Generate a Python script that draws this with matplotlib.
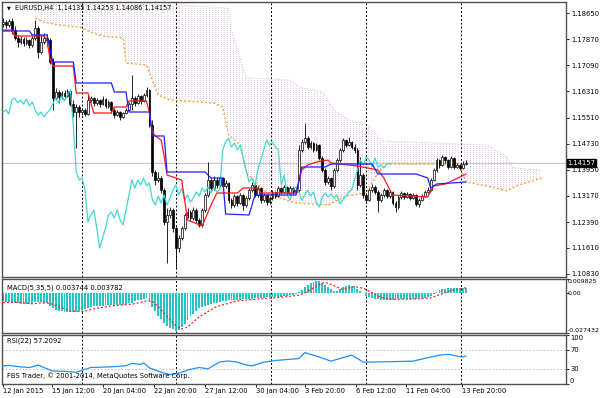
import matplotlib
matplotlib.use("Agg")
import matplotlib.pyplot as plt
import matplotlib.transforms as mtransforms
from matplotlib.patches import Polygon
import numpy as np

plt.rcParams['font.family'] = ['DejaVu Sans']

# EURUSD H4, 12 Jan - 13 Feb 2015
opens = [1.1833, 1.1839, 1.1830, 1.1842, 1.1815, 1.1791, 1.1779, 1.1788, 1.1776, 1.1785,
         1.1770, 1.1791, 1.1821, 1.1749, 1.1779, 1.1791, 1.1785, 1.1719, 1.1611, 1.1629,
         1.1614, 1.1626, 1.1617, 1.1632, 1.1593, 1.1569, 1.1584, 1.1569, 1.1575, 1.1563,
         1.1605, 1.1611, 1.1596, 1.1605, 1.1593, 1.1608, 1.1587, 1.1599, 1.1575, 1.1560,
         1.1569, 1.1554, 1.1566, 1.1575, 1.1593, 1.1611, 1.1596, 1.1617, 1.1602, 1.1620,
         1.1635, 1.1530, 1.1389, 1.1365, 1.1371, 1.1335, 1.1239, 1.1260, 1.1275, 1.1221,
         1.1161, 1.1191, 1.1221, 1.1260, 1.1269, 1.1251, 1.1275, 1.1245, 1.1230, 1.1275,
         1.1320, 1.1365, 1.1341, 1.1365, 1.1350, 1.1371, 1.1347, 1.1356, 1.1305, 1.1290,
         1.1317, 1.1296, 1.1320, 1.1290, 1.1311, 1.1335, 1.1350, 1.1320, 1.1341, 1.1305,
         1.1320, 1.1299, 1.1311, 1.1329, 1.1317, 1.1341, 1.1329, 1.1344, 1.1326, 1.1341,
         1.1329, 1.1335, 1.1455, 1.1479, 1.1491, 1.1464, 1.1476, 1.1455, 1.1470, 1.1431,
         1.1395, 1.1359, 1.1371, 1.1347, 1.1395, 1.1425, 1.1455, 1.1485, 1.1470, 1.1479,
         1.1464, 1.1455, 1.1350, 1.1380, 1.1320, 1.1305, 1.1335, 1.1344, 1.1329, 1.1305,
         1.1320, 1.1335, 1.1317, 1.1329, 1.1296, 1.1284, 1.1314, 1.1326, 1.1314, 1.1323,
         1.1311, 1.1320, 1.1293, 1.1305, 1.1317, 1.1329, 1.1335, 1.1365, 1.1395, 1.1425,
         1.1410, 1.1434, 1.1425, 1.1404, 1.1431, 1.1404, 1.1410, 1.1401, 1.14135]
highs = [1.1851, 1.1845, 1.1848, 1.1851, 1.1827, 1.1800, 1.1797, 1.1794, 1.1794, 1.1788,
         1.1797, 1.1845, 1.1827, 1.1800, 1.1806, 1.1803, 1.1791, 1.1731, 1.1641, 1.1635,
         1.1632, 1.1635, 1.1638, 1.1635, 1.1605, 1.1593, 1.1590, 1.1581, 1.1581, 1.1620,
         1.1617, 1.1614, 1.1611, 1.1608, 1.1617, 1.1611, 1.1605, 1.1602, 1.1581, 1.1575,
         1.1572, 1.1569, 1.1581, 1.1599, 1.1680, 1.1617, 1.1623, 1.1620, 1.1626, 1.1644,
         1.1638, 1.1545, 1.1395, 1.1389, 1.1377, 1.1341, 1.1281, 1.1284, 1.1281, 1.1227,
         1.1200, 1.1227, 1.1266, 1.1281, 1.1275, 1.1284, 1.1281, 1.1251, 1.1281, 1.1326,
         1.1419, 1.1371, 1.1377, 1.1371, 1.1380, 1.1374, 1.1365, 1.1359, 1.1311, 1.1323,
         1.1320, 1.1326, 1.1323, 1.1317, 1.1341, 1.1359, 1.1353, 1.1347, 1.1344, 1.1326,
         1.1323, 1.1317, 1.1335, 1.1332, 1.1347, 1.1344, 1.1350, 1.1347, 1.1347, 1.1344,
         1.1338, 1.1470, 1.1488, 1.1536, 1.1497, 1.1482, 1.1479, 1.1476, 1.1473, 1.1437,
         1.1401, 1.1377, 1.1374, 1.1401, 1.1431, 1.1461, 1.1491, 1.1488, 1.1494, 1.1482,
         1.1473, 1.1461, 1.1434, 1.1386, 1.1326, 1.1341, 1.1353, 1.1350, 1.1335, 1.1326,
         1.1341, 1.1338, 1.1335, 1.1332, 1.1302, 1.1320, 1.1332, 1.1329, 1.1329, 1.1326,
         1.1326, 1.1323, 1.1311, 1.1323, 1.1335, 1.1344, 1.1371, 1.1401, 1.1431, 1.1428,
         1.1440, 1.1437, 1.1428, 1.1437, 1.1434, 1.1416, 1.1413, 1.1422, 1.14253]
lows = [1.1824, 1.1821, 1.1824, 1.1803, 1.1785, 1.1764, 1.1773, 1.1767, 1.1770, 1.1761,
        1.1764, 1.1785, 1.1731, 1.1743, 1.1773, 1.1767, 1.1713, 1.1575, 1.1605, 1.1596,
        1.1608, 1.1611, 1.1614, 1.1587, 1.1554, 1.1461, 1.1554, 1.1560, 1.1557, 1.1560,
        1.1599, 1.1587, 1.1590, 1.1584, 1.1590, 1.1581, 1.1581, 1.1566, 1.1551, 1.1557,
        1.1545, 1.1551, 1.1563, 1.1572, 1.1575, 1.1587, 1.1593, 1.1593, 1.1599, 1.1614,
        1.1524, 1.1377, 1.1350, 1.1359, 1.1326, 1.1230, 1.1116, 1.1251, 1.1209, 1.1101,
        1.1149, 1.1185, 1.1215, 1.1251, 1.1242, 1.1245, 1.1236, 1.1224, 1.1224, 1.1269,
        1.1314, 1.1335, 1.1335, 1.1341, 1.1344, 1.1335, 1.1341, 1.1296, 1.1281, 1.1284,
        1.1287, 1.1293, 1.1275, 1.1284, 1.1305, 1.1329, 1.1314, 1.1314, 1.1296, 1.1299,
        1.1290, 1.1293, 1.1305, 1.1311, 1.1314, 1.1323, 1.1326, 1.1320, 1.1323, 1.1323,
        1.1323, 1.1329, 1.1449, 1.1473, 1.1458, 1.1458, 1.1449, 1.1452, 1.1425, 1.1389,
        1.1350, 1.1353, 1.1335, 1.1341, 1.1389, 1.1419, 1.1449, 1.1464, 1.1467, 1.1458,
        1.1446, 1.1335, 1.1344, 1.1311, 1.1296, 1.1302, 1.1329, 1.1323, 1.1269, 1.1299,
        1.1314, 1.1311, 1.1311, 1.1290, 1.1269, 1.1278, 1.1308, 1.1308, 1.1311, 1.1305,
        1.1308, 1.1287, 1.1284, 1.1302, 1.1314, 1.1326, 1.1332, 1.1362, 1.1389, 1.1401,
        1.1407, 1.1416, 1.1398, 1.1401, 1.1398, 1.1401, 1.1395, 1.1398, 1.14086]
closes = [1.1839, 1.1830, 1.1842, 1.1815, 1.1791, 1.1779, 1.1788, 1.1776, 1.1785, 1.1770,
          1.1791, 1.1821, 1.1749, 1.1779, 1.1791, 1.1785, 1.1719, 1.1611, 1.1629, 1.1614,
          1.1626, 1.1617, 1.1632, 1.1593, 1.1569, 1.1584, 1.1569, 1.1575, 1.1563, 1.1605,
          1.1611, 1.1596, 1.1605, 1.1593, 1.1608, 1.1587, 1.1599, 1.1575, 1.1560, 1.1569,
          1.1554, 1.1566, 1.1575, 1.1593, 1.1611, 1.1596, 1.1617, 1.1602, 1.1620, 1.1635,
          1.1530, 1.1389, 1.1365, 1.1371, 1.1335, 1.1239, 1.1260, 1.1275, 1.1221, 1.1161,
          1.1191, 1.1221, 1.1260, 1.1269, 1.1251, 1.1275, 1.1245, 1.1230, 1.1275, 1.1320,
          1.1365, 1.1341, 1.1365, 1.1350, 1.1371, 1.1347, 1.1356, 1.1305, 1.1290, 1.1317,
          1.1296, 1.1320, 1.1290, 1.1311, 1.1335, 1.1350, 1.1320, 1.1341, 1.1305, 1.1320,
          1.1299, 1.1311, 1.1329, 1.1317, 1.1341, 1.1329, 1.1344, 1.1326, 1.1341, 1.1329,
          1.1335, 1.1455, 1.1479, 1.1491, 1.1464, 1.1476, 1.1455, 1.1470, 1.1431, 1.1395,
          1.1359, 1.1371, 1.1347, 1.1395, 1.1425, 1.1455, 1.1485, 1.1470, 1.1479, 1.1464,
          1.1455, 1.1350, 1.1380, 1.1320, 1.1305, 1.1335, 1.1344, 1.1329, 1.1305, 1.1320,
          1.1335, 1.1317, 1.1329, 1.1296, 1.1284, 1.1314, 1.1326, 1.1314, 1.1323, 1.1311,
          1.1320, 1.1293, 1.1305, 1.1317, 1.1329, 1.1335, 1.1365, 1.1395, 1.1425, 1.1410,
          1.1434, 1.1425, 1.1404, 1.1431, 1.1404, 1.1410, 1.1401, 1.1413, 1.14157]

# Ichimoku (9, 26, 52): vertices of the drawn lines, bar index / price
tenkan_bars = [0, 3, 4, 14, 15, 16, 17, 24, 25, 29, 31, 37, 38, 42, 43, 49, 50, 51, 52, 54,
               55, 56, 61, 63, 68, 71, 73, 80, 82, 87, 88, 100, 102, 104, 107, 111, 112, 121,
               128, 130, 133, 145, 147, 151, 156, 158]
tenkan_vals = [1.1815, 1.1815, 1.1797, 1.1797, 1.1785, 1.1731, 1.1707, 1.1707, 1.1626, 1.1626,
               1.1566, 1.1566, 1.1584, 1.1584, 1.1602, 1.1602, 1.1566, 1.1510, 1.1497, 1.1485,
               1.1437, 1.1380, 1.1365, 1.1245, 1.1227, 1.1290, 1.1326, 1.1326, 1.1341, 1.1341,
               1.1326, 1.1326, 1.1395, 1.1410, 1.1419, 1.1425, 1.1416, 1.1407, 1.1395, 1.1371,
               1.1320, 1.1314, 1.1347, 1.1353, 1.1374, 1.1383]
kijun_bars = [0, 9, 10, 15, 17, 24, 25, 37, 38, 42, 43, 50, 51, 55, 56, 69, 71, 75, 76, 84,
              86, 100, 102, 110, 112, 126, 128, 141, 145, 146, 148, 158]
kijun_vals = [1.1812, 1.1812, 1.1800, 1.1800, 1.1719, 1.1719, 1.1656, 1.1656, 1.1629, 1.1629,
              1.1569, 1.1569, 1.1497, 1.1497, 1.1389, 1.1389, 1.1371, 1.1371, 1.1263, 1.1260,
              1.1320, 1.1320, 1.1404, 1.1404, 1.1413, 1.1413, 1.1383, 1.1383, 1.1371, 1.1341,
              1.1353, 1.1359]
senkou_a_bars = [11, 14, 19, 26, 30, 34, 41, 42, 49, 53, 57, 72, 75, 77, 81, 83, 87, 91, 100,
                 111, 117, 124, 128, 131, 156, 158, 167, 172, 176, 184]
senkou_a_vals = [1.1851, 1.1839, 1.1830, 1.1824, 1.1809, 1.1797, 1.1791, 1.1716, 1.1710, 1.1620,
                 1.1605, 1.1596, 1.1584, 1.1500, 1.1470, 1.1389, 1.1350, 1.1320, 1.1296, 1.1290,
                 1.1317, 1.1326, 1.1386, 1.1413, 1.1413, 1.1359, 1.1344, 1.1332, 1.1350, 1.1371]
senkou_b_bars = [11, 59, 60, 77, 78, 83, 98, 101, 109, 113, 118, 124, 127, 129, 165, 168, 172,
                 174, 184]
senkou_b_vals = [1.1965, 1.1965, 1.1890, 1.1881, 1.1815, 1.1671, 1.1665, 1.1644, 1.1629, 1.1575,
                 1.1545, 1.1533, 1.1506, 1.1482, 1.1470, 1.1455, 1.1434, 1.1401, 1.1395]
chikou_shift = 26

# MACD(5,35,5): main value per bar (histogram) and signal line vertices
macd_main = [-0.0056, -0.0058, -0.0057, -0.0060, -0.0065, -0.0069, -0.0072, -0.0074, -0.0075, -0.0076,
             -0.0072, -0.0060, -0.0062, -0.0060, -0.0064, -0.0070, -0.0085, -0.0105, -0.0115, -0.0120,
             -0.0124, -0.0126, -0.0128, -0.0129, -0.0128, -0.0126, -0.0122, -0.0115, -0.0108, -0.0100,
             -0.0094, -0.0090, -0.0088, -0.0086, -0.0086, -0.0084, -0.0083, -0.0082, -0.0082, -0.0080,
             -0.0080, -0.0078, -0.0074, -0.0070, -0.0064, -0.0056, -0.0050, -0.0044, -0.0038, -0.0034,
             -0.0055, -0.0095, -0.0125, -0.0155, -0.0180, -0.0205, -0.0225, -0.0238, -0.0246, -0.0260,
             -0.0255, -0.0230, -0.0210, -0.0185, -0.0160, -0.0140, -0.0120, -0.0105, -0.0094, -0.0086,
             -0.0078, -0.0072, -0.0068, -0.0064, -0.0060, -0.0056, -0.0052, -0.0050, -0.0048, -0.0046,
             -0.0045, -0.0044, -0.0043, -0.0042, -0.0040, -0.0038, -0.0035, -0.0033, -0.0032, -0.0030,
             -0.0028, -0.0027, -0.0028, -0.0027, -0.0025, -0.0023, -0.0020, -0.0017, -0.0014, -0.0011,
             -0.0006, 0.0006, 0.0022, 0.0040, 0.0056, 0.0070, 0.0079, 0.0084, 0.0082, 0.0072,
             0.0056, 0.0042, 0.0028, 0.0018, 0.0016, 0.0028, 0.0042, 0.0050, 0.0054, 0.0053,
             0.0048, 0.0032, 0.0016, 0.0000, -0.0016, -0.0028, -0.0034, -0.0038, -0.0042, -0.0044,
             -0.0045, -0.0045, -0.0044, -0.0044, -0.0044, -0.0043, -0.0042, -0.0041, -0.0040, -0.0039,
             -0.0038, -0.0037, -0.0036, -0.0034, -0.0031, -0.0026, -0.0016, -0.0002, 0.0012, 0.0022,
             0.0028, 0.0032, 0.0034, 0.0036, 0.0036, 0.0037, 0.0037, 0.0038, 0.003744]
signal_bars = [0, 5, 10, 13, 16, 19, 23, 27, 31, 37, 44, 49, 51, 53, 56, 59, 61, 63, 67, 73,
               80, 88, 96, 101, 104, 107, 110, 113, 116, 120, 123, 126, 129, 133, 140, 146, 149,
               153, 158]
signal_vals = [-0.0064, -0.0062, -0.0073, -0.0066, -0.0069, -0.0095, -0.0122, -0.0127, -0.0108, -0.0087,
               -0.0076, -0.0053, -0.0056, -0.0092, -0.0160, -0.0224, -0.0246, -0.0234, -0.0162, -0.0091,
               -0.0053, -0.0038, -0.0026, -0.0014, 0.0011, 0.0050, 0.0076, 0.0052, 0.0026, 0.0045,
               0.0035, 0.0003, -0.0029, -0.0042, -0.0040, -0.0033, -0.0010, 0.0019, 0.003782]
macd_max, macd_min = 0.009825, -0.027432

# RSI(22) line vertices
rsi_bars = [0, 2, 6, 9, 12, 14, 17, 21, 25, 26, 30, 37, 42, 44, 47, 48, 50, 53, 57, 60,
            64, 67, 70, 74, 77, 80, 83, 85, 89, 93, 101, 103, 107, 112, 119, 121, 123, 132,
            140, 146, 149, 152, 155, 157, 158]
rsi_vals = [37, 38, 35, 33.6, 38.7, 33.6, 26.4, 26, 24, 26, 33.6, 35, 37.3, 42, 40, 43, 33, 26,
            19, 22, 30, 33.6, 31, 45, 47, 44.5, 39, 37, 44.5, 48, 52, 64, 57, 46.7, 59, 52,
            44.5, 45.5, 46.7, 55, 59, 60.5, 57, 55, 57.2092]

time_labels = ["12 Jan 2015", "15 Jan 12:00", "20 Jan 04:00", "22 Jan 20:00", "27 Jan 12:00",
               "30 Jan 04:00", "3 Feb 20:00", "6 Feb 12:00", "11 Feb 04:00", "13 Feb 20:00"]
time_label_bars = [0, 16.7, 34.1, 51.5, 68.9, 86.3, 103.1, 120.5, 137.5, 156.7]
grid_bars = [27, 59, 91.5, 124, 156.3]
price_ticks = [1.18650, 1.17870, 1.17090, 1.16310, 1.15510, 1.14730, 1.13950, 1.13170,
               1.12390, 1.11610, 1.10830]

W, H = 600, 398
fig = plt.figure(figsize=(W / 100, H / 100), dpi=100)
fig.patch.set_facecolor('white')


def px_rect(left, top, right, bottom):
    return [left / W, 1 - bottom / H, (right - left) / W, (bottom - top) / H]


ax = fig.add_axes(px_rect(2, 2, 566, 277))
ax_macd = fig.add_axes(px_rect(2, 279, 566, 333))
ax_rsi = fig.add_axes(px_rect(2, 335, 566, 384))

XMIN, XMAX = -0.34, 192.2
PMIN, PMAX = 1.1074, 1.1899
FS = 4.9

for a in (ax, ax_macd, ax_rsi):
    a.set_xlim(XMIN, XMAX)
    a.set_xticks([])
    for s in a.spines.values():
        s.set_color('#505050')
        s.set_linewidth(1)
    for g in grid_bars:
        a.axvline(g, color='black', lw=0.7, ls=(0, (2, 2)), zorder=1.5)
    a.yaxis.tick_right()
    a.tick_params(axis='y', length=2, width=0.6, pad=1.5, labelsize=FS, colors='black')

# ---- main window ----
idx = np.arange(len(closes))
o = np.array(opens)
c = np.array(closes)
h = np.array(highs)
l = np.array(lows)
up = c >= o

# Kumo: light dotted texture clipped to the cloud polygon
tex = np.zeros((275, 564, 4))
tex[::2, ::3] = (0.87, 0.75, 0.88, 0.8)
im = ax.imshow(tex, extent=(XMIN, XMAX, PMIN, PMAX), aspect='auto',
               interpolation='nearest', zorder=1)
cloud = Polygon(list(zip(senkou_b_bars, senkou_b_vals)) +
                list(zip(senkou_a_bars[::-1], senkou_a_vals[::-1])),
                closed=True, facecolor='none', edgecolor='none')
ax.add_patch(cloud)
im.set_clip_path(cloud)

ax.plot(senkou_a_bars, senkou_a_vals, color='#F5A23A', lw=1, ls=(0, (1.5, 1.5)), zorder=2)
ax.plot(senkou_b_bars, senkou_b_vals, color='#DCC4DC', lw=0.8, ls=(0, (1, 1.5)), zorder=2)

ax.axhline(closes[-1], color='#C8C8C8', lw=0.9, zorder=0.8)

ax.vlines(idx, l, h, color='black', lw=0.6, zorder=3)
ax.bar(idx[up], (c - o)[up], bottom=o[up], width=0.62, facecolor='white',
       edgecolor='black', linewidth=0.5, zorder=3.5)
ax.bar(idx[~up], (c - o)[~up], bottom=o[~up], width=0.62, facecolor='black',
       edgecolor='black', linewidth=0.5, zorder=3.5)

ax.plot(idx[:-chikou_shift], c[chikou_shift:], color='#40D8D0', lw=0.9, zorder=4)
ax.plot(tenkan_bars, tenkan_vals, color='#FF1A1A', lw=0.9, zorder=4)
ax.plot(kijun_bars, kijun_vals, color='#2020FF', lw=0.9, zorder=4)

ax.set_ylim(PMIN, PMAX)
ax.set_yticks(price_ticks)
ax.set_yticklabels([f"{p:.5f}" for p in price_ticks])

tr_main = mtransforms.blended_transform_factory(ax.transAxes, ax.transData)
ax.text(1 + 1.5 / 564, closes[-1], f"{closes[-1]:.5f}", transform=tr_main, ha='left',
        va='center', fontsize=FS, color='white', zorder=10,
        bbox=dict(boxstyle='square,pad=0.12', fc='black', ec='black'))

ax.text(5 / 564, 1 - 6 / 275, "\u25bc", transform=ax.transAxes, fontsize=3.6,
        ha='left', va='center', zorder=10)
ax.text(13 / 564, 1 - 6 / 275, "EURUSD,H4  1.14135 1.14253 1.14086 1.14157",
        transform=ax.transAxes, fontsize=4.7, ha='left', va='center', zorder=10)

# ---- MACD window ----
ax_macd.bar(idx, macd_main, width=0.65, color='#26C4C4', zorder=2)
ax_macd.plot(signal_bars, signal_vals, color='#FF2020', lw=0.9, ls=(0, (1.6, 1.6)), zorder=3)
ax_macd.set_ylim(macd_min, macd_max)
ax_macd.set_yticks([macd_max, 0.0, macd_min])
ax_macd.set_yticklabels([])
tr_macd = mtransforms.blended_transform_factory(ax_macd.transAxes, ax_macd.transData)
for val, lab, va in [(macd_max, "0.009825", 'top'), (0.0, "0.00", 'center'),
                     (macd_min, "-0.027432", 'bottom')]:
    ax_macd.text(1 + 1.5 / 564, val, lab, transform=tr_macd, fontsize=4.5, ha='left', va=va,
                 clip_on=False)
ax_macd.text(5 / 564, 1 - 9 / 54, "MACD(5,35,5) 0.003744 0.003782", transform=ax_macd.transAxes,
             fontsize=FS, ha='left', va='center')

# ---- RSI window ----
ax_rsi.axhline(70, color='#C0C0C0', lw=0.7, ls=(0, (1.5, 2)), zorder=1)
ax_rsi.axhline(30, color='#C0C0C0', lw=0.7, ls=(0, (1.5, 2)), zorder=1)
ax_rsi.plot(rsi_bars, rsi_vals, color='#1E90FF', lw=0.9, zorder=3)
ax_rsi.set_ylim(0, 100)
ax_rsi.set_yticks([100, 70, 30, 0])
ax_rsi.set_yticklabels([])
tr_rsi = mtransforms.blended_transform_factory(ax_rsi.transAxes, ax_rsi.transData)
for val, va in [(100, 'top'), (70, 'center'), (30, 'center'), (0, 'bottom')]:
    ax_rsi.text(1 + 4 / 564, val, str(val), transform=tr_rsi, fontsize=FS, ha='left', va=va,
                clip_on=False)
ax_rsi.text(5 / 564, 1 - 6 / 49, "RSI(22) 57.2092", transform=ax_rsi.transAxes,
            fontsize=FS, ha='left', va='center')
ax_rsi.text(5 / 564, 8 / 49, "FBS Trader, \u00a9 2001-2014, MetaQuotes Software Corp.",
            transform=ax_rsi.transAxes, fontsize=FS, ha='left', va='center')

ax_rsi.set_xticks(time_label_bars)
ax_rsi.set_xticklabels([])
ax_rsi.tick_params(axis='x', length=2, width=0.6)
tr_time = mtransforms.blended_transform_factory(ax_rsi.transData, ax_rsi.transAxes)
for b, lab in zip(time_label_bars, time_labels):
    ax_rsi.text(b, -4 / 49, lab, transform=tr_time, fontsize=FS, ha='left', va='top',
                clip_on=False)

fig.savefig("out.png", dpi=100)
